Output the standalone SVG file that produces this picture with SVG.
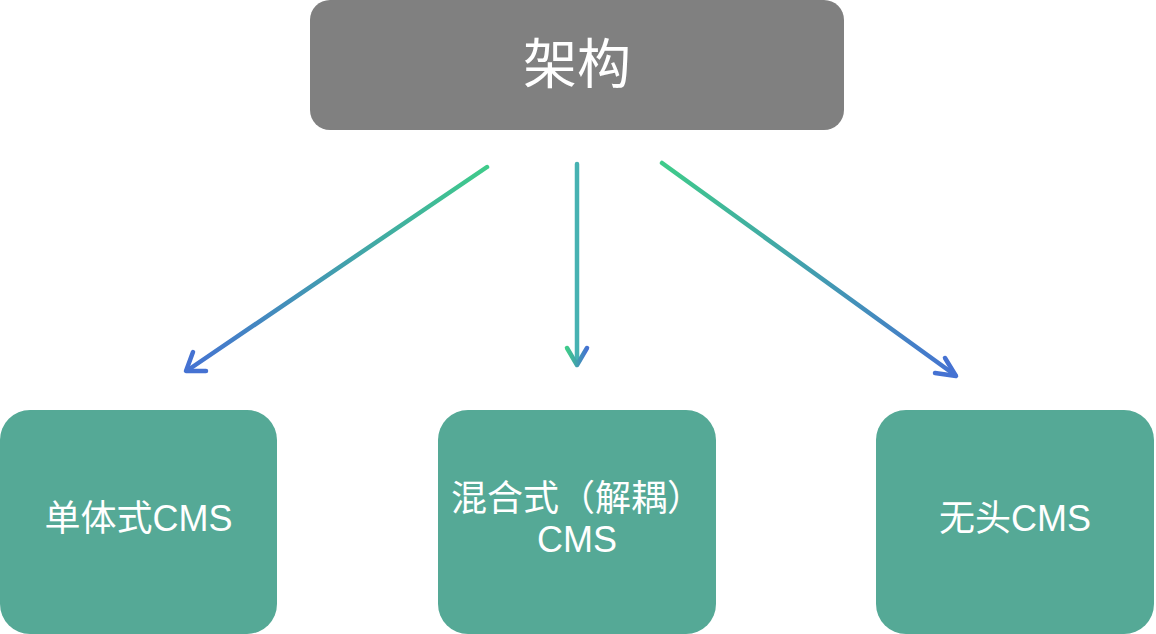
<svg xmlns="http://www.w3.org/2000/svg" width="1156" height="634" viewBox="0 0 1156 634">
  <style>
    .box { fill: #55a996; }
    .top { fill: #808080; }
    .lbl { fill: #ffffff; font-family: "Liberation Sans", "Noto Sans CJK SC", sans-serif; font-size: 36px; text-anchor: middle; }
    .title { fill: #ffffff; font-family: "Liberation Sans", "Noto Sans CJK SC", sans-serif; font-size: 54px; text-anchor: middle; }
    .ln { fill: none; stroke-width: 4.5; stroke-linecap: round; stroke-linejoin: round; }
  </style>
  <defs>
    <linearGradient id="gL" gradientUnits="userSpaceOnUse" x1="487" y1="167" x2="186" y2="371">
      <stop offset="0" stop-color="#3fcb8a"/>
      <stop offset="1" stop-color="#4572d2"/>
    </linearGradient>
    <linearGradient id="gR" gradientUnits="userSpaceOnUse" x1="662" y1="163" x2="956" y2="376">
      <stop offset="0" stop-color="#3fcb8a"/>
      <stop offset="1" stop-color="#4572d2"/>
    </linearGradient>
    <linearGradient id="gM" gradientUnits="userSpaceOnUse" x1="567" y1="0" x2="587" y2="0">
      <stop offset="0" stop-color="#3fcb8a"/>
      <stop offset="1" stop-color="#4572d2"/>
    </linearGradient>
  </defs>

  <g id="node-architecture">
    <rect class="top" x="310" y="0" width="534" height="130" rx="20" ry="20"/>
    <text class="title" x="577" y="84">架构</text>
  </g>

  <g id="node-monolithic">
    <rect class="box" x="0" y="410" width="277" height="224" rx="30" ry="30"/>
    <text class="lbl" x="138.5" y="531">单体式CMS</text>
  </g>

  <g id="node-hybrid">
    <rect class="box" x="438" y="410" width="278" height="224" rx="30" ry="30"/>
    <text class="lbl" x="577" y="511">混合式（解耦）</text>
    <text class="lbl" x="577" y="552">CMS</text>
  </g>

  <g id="node-headless">
    <rect class="box" x="876" y="410" width="278" height="224" rx="30" ry="30"/>
    <text class="lbl" x="1015" y="531">无头CMS</text>
  </g>

  <g id="connectors">
    <line class="ln" stroke="url(#gL)" x1="487" y1="167" x2="188" y2="370"/>
    <polyline class="ln" stroke="#4572d2" points="193,352 186,371 206,371"/>
    <line class="ln" stroke="#47b2b2" x1="577" y1="164" x2="577" y2="364"/>
    <polyline class="ln" stroke="url(#gM)" points="567,348 577,365 587,348"/>
    <line class="ln" stroke="url(#gR)" x1="662" y1="163" x2="955" y2="375"/>
    <polyline class="ln" stroke="#4572d2" points="945,358 956,376 935,373"/>
  </g>
</svg>
